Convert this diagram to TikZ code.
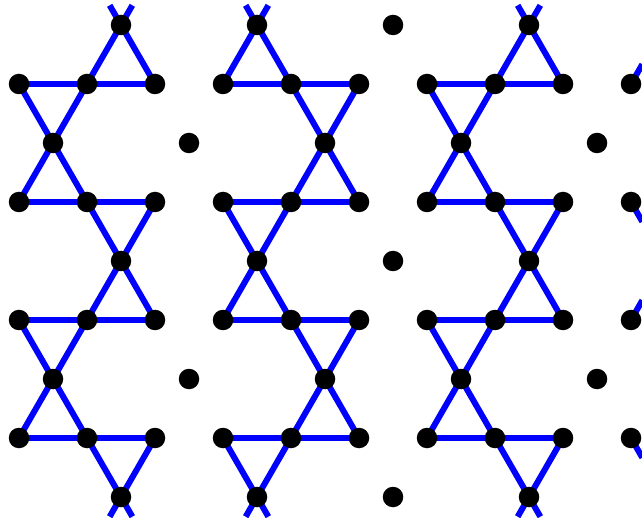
\documentclass[tikz,border=0pt]{standalone}
\pgfdeclarelayer{bg}
\pgfsetlayers{bg,main}
\begin{document}
\begin{tikzpicture}[x=1pt,y=-1pt,
  site/.style={circle,fill=black,inner sep=0pt,minimum size=20.5pt},
  bond/.style={draw=blue,line width=6pt}]
\useasboundingbox (0,0) rectangle (642,518);
% lattice sites
\foreach \r/\cs in {0/{3,7,11,15},1/{0,2,...,18},2/{1,5,9,13,17},3/{0,2,...,18},4/{3,7,11,15},5/{0,2,...,18},6/{1,5,9,13,17},7/{0,2,...,18},8/{3,7,11,15}}
  \foreach \c in \cs
    \node[site] (n\c-\r) at ({19+34*\c},{25+59*\r}) {};
% free ends of the cut bonds
\foreach \c in {3,7,15} {
  \coordinate (tl\c) at ({19+34*\c-34/3},{25-59/3});
  \coordinate (tr\c) at ({19+34*\c+34/3},{25-59/3});
  \coordinate (bl\c) at ({19+34*\c-34/3},{497+59/3});
  \coordinate (br\c) at ({19+34*\c+34/3},{497+59/3});
}
\foreach \r/\s in {1/-1,3/1,5/-1,7/1}
  \coordinate (rt\r) at ({631+34/3},{25+59*\r+\s*59/3});
\begin{pgfonlayer}{bg}
\foreach \a/\ra/\b/\rb in {3/0/2/1,3/0/4/1,0/1/2/1,2/1/4/1,0/1/1/2,2/1/1/2,1/2/0/3,1/2/2/3,0/3/2/3,2/3/4/3,2/3/3/4,4/3/3/4,3/4/2/5,3/4/4/5,0/5/2/5,2/5/4/5,0/5/1/6,2/5/1/6,1/6/0/7,1/6/2/7,0/7/2/7,2/7/4/7,2/7/3/8,4/7/3/8} {
  \foreach \o in {0,12} {
    \pgfmathtruncatemacro\ca{\a+\o}
    \pgfmathtruncatemacro\cb{\b+\o}
    \draw[bond] (n\ca-\ra.center) -- (n\cb-\rb.center);
  }
  \pgfmathtruncatemacro\ca{10-\a}
  \pgfmathtruncatemacro\cb{10-\b}
  \draw[bond] (n\ca-\ra.center) -- (n\cb-\rb.center);
}
\foreach \c in {3,7,15} {
  \draw[bond] (n\c-0.center) -- (tl\c);
  \draw[bond] (n\c-0.center) -- (tr\c);
  \draw[bond] (n\c-8.center) -- (bl\c);
  \draw[bond] (n\c-8.center) -- (br\c);
}
\foreach \r in {1,3,5,7}
  \draw[bond] (n18-\r.center) -- (rt\r);
\end{pgfonlayer}
\end{tikzpicture}
\end{document}
